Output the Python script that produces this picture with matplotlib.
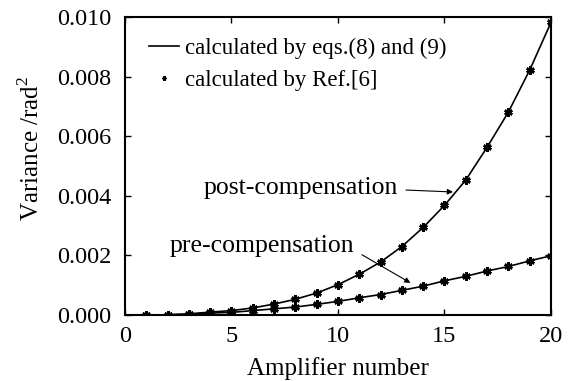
import numpy as np
import matplotlib
matplotlib.use("Agg")
import matplotlib.pyplot as plt

plt.rcParams['font.family'] = ['Liberation Serif', 'DejaVu Serif']
plt.rcParams['mathtext.fontset'] = 'custom'
plt.rcParams['mathtext.rm'] = 'Liberation Serif'

AMP_NUMBER = list(range(1, 21))
# variance (rad^2)
POST_COMP = [0.00000, 0.00001, 0.00004, 0.00010, 0.00015, 0.00024, 0.00037, 0.00053,
             0.00074, 0.00102, 0.00137, 0.00178, 0.00230, 0.00294, 0.00368, 0.00453,
             0.00563, 0.00681, 0.00822, 0.00982]
PRE_COMP = [0.00000, 0.00001, 0.00003, 0.00007, 0.00009, 0.00015, 0.00021, 0.00027,
            0.00036, 0.00046, 0.00058, 0.00069, 0.00083, 0.00097, 0.00115, 0.00130,
            0.00148, 0.00163, 0.00182, 0.00199]
X_TICKS = [0, 5, 10, 15, 20]
Y_TICKS = [0.000, 0.002, 0.004, 0.006, 0.008, 0.010]

fig = plt.figure(figsize=(5.73, 3.81), dpi=100)
ax = fig.add_axes([0.218, 0.173, 0.7436, 0.7824])

ast = (6, 2, 0)  # asterisk marker
ax.plot(AMP_NUMBER, POST_COMP, color='black', lw=1.2, label='calculated by eqs.(8) and (9)')
ax.plot(AMP_NUMBER, PRE_COMP, color='black', lw=1.2)
ax.plot(AMP_NUMBER, POST_COMP, ls='none', marker=ast, ms=6, mew=1.8, color='black',
        label='calculated by Ref.[6]')
ax.plot(AMP_NUMBER, PRE_COMP, ls='none', marker=ast, ms=6, mew=1.8, color='black')

ax.set_xlim(0, 20)
ax.set_ylim(0, 0.010)
ax.set_xticks(X_TICKS)
ax.set_yticks(Y_TICKS)
ax.set_yticklabels([f'{v:.3f}' for v in Y_TICKS])
ax.tick_params(direction='in', top=True, right=True, length=4, width=1, labelsize=17.5)
ax.tick_params(axis='x', pad=8)
ax.tick_params(axis='y', pad=10)
for s in ax.spines.values():
    s.set_linewidth(1.5)

ax.set_xlabel('Amplifier number', fontsize=18, labelpad=7)
ax.set_ylabel('Variance /rad$^2$', fontsize=18)
ax.yaxis.set_label_coords(-0.19, 0.56)

leg = ax.legend(loc='upper left', frameon=False, fontsize=16.5, handlelength=1.3,
                handletextpad=0.25, borderaxespad=0.0, labelspacing=0.45,
                markerscale=0.45, bbox_to_anchor=(0.035, 0.96))

ax.annotate('post-compensation', xy=(15.4, 0.00413), xytext=(12.8, 0.00428),
            ha='right', va='center', fontsize=18.5,
            arrowprops=dict(arrowstyle='-|>', color='black', lw=0.8, relpos=(1, 0.4),
                            mutation_scale=8, shrinkA=4, shrinkB=0))
ax.annotate('pre-compensation', xy=(13.4, 0.00108), xytext=(10.77, 0.00232),
            ha='right', va='center', fontsize=18.5,
            arrowprops=dict(arrowstyle='-|>', color='black', lw=0.8, relpos=(1, 0.3),
                            mutation_scale=8, shrinkA=4, shrinkB=0))

fig.savefig('out.png', dpi=100)
